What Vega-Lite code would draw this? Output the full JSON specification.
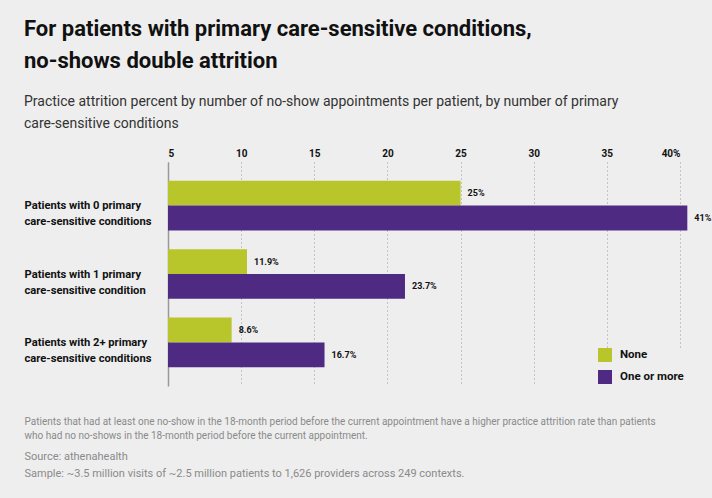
{
  "$schema": "https://vega.github.io/schema/vega-lite/v6.json",
  "width": 512,
  "height": 224,
  "autosize": {"type": "none"},
  "padding": {"left": 168, "top": 162, "right": 32, "bottom": 112},
  "background": "#eeeeee",
  "config": {"font": "Roboto", "view": {"stroke": null}},
  "title": {
    "text": ["For patients with primary care-sensitive conditions,", "no-shows double attrition"],
    "subtitle": ["Practice attrition percent by number of no-show appointments per patient, by number of primary", "care-sensitive conditions"],
    "anchor": "start",
    "frame": "bounds",
    "font": "Roboto",
    "fontSize": 22,
    "fontWeight": "bold",
    "lineHeight": 32,
    "color": "#111111",
    "subtitleFont": "Roboto",
    "subtitleFontSize": 14,
    "subtitleColor": "#333333",
    "subtitleLineHeight": 22,
    "subtitlePadding": 22,
    "offset": 16
  },
  "data": {
    "values": [
      {"group": "Patients with 0 primary|care-sensitive conditions", "series": "None", "value": 25, "label": "25%"},
      {"group": "Patients with 0 primary|care-sensitive conditions", "series": "One or more", "value": 40.5, "label": "41%"},
      {"group": "Patients with 1 primary|care-sensitive condition", "series": "None", "value": 10.4, "label": "11.9%"},
      {"group": "Patients with 1 primary|care-sensitive condition", "series": "One or more", "value": 21.2, "label": "23.7%"},
      {"group": "Patients with 2+ primary|care-sensitive conditions", "series": "None", "value": 9.35, "label": "8.6%"},
      {"group": "Patients with 2+ primary|care-sensitive conditions", "series": "One or more", "value": 15.7, "label": "16.7%"}
    ]
  },
  "encoding": {
    "y": {
      "field": "group",
      "type": "nominal",
      "sort": null,
      "scale": {"paddingInner": 0.275, "paddingOuter": 0.275},
      "axis": {
        "labelExpr": "split(datum.label, '|')",
        "labelAlign": "left",
        "labelBaseline": "middle",
        "labelPadding": 144,
        "labelOffset": 0.5,
        "labelFontSize": 11.2,
        "labelFontWeight": "bold",
        "labelColor": "#111111",
        "labelLineHeight": 16,
        "labelLimit": 300,
        "ticks": false,
        "domainColor": "#999999",
        "domainWidth": 1.5,
        "grid": false,
        "title": ["Patients that had at least one no-show in the 18-month period before the current appointment have a higher practice attrition rate than patients", "who had no no-shows in the 18-month period before the current appointment."],
        "titleAngle": 0,
        "titleX": -144,
        "titleY": 254,
        "titleAlign": "left",
        "titleBaseline": "top",
        "titleFontSize": 10,
        "titleFontWeight": "normal",
        "titleColor": "#8a8a8a",
        "titleLineHeight": 14,
        "titleLimit": 800
      }
    },
    "yOffset": {"field": "series", "sort": ["None", "One or more"], "scale": {"paddingInner": 0, "paddingOuter": 0}}
  },
  "layer": [
    {
      "mark": {"type": "bar"},
      "encoding": {
        "x": {
          "field": "value",
          "type": "quantitative",
          "scale": {"domain": [5, 40], "nice": false, "zero": false},
          "axis": {
            "orient": "top",
            "values": [5, 10, 15, 20, 25, 30, 35, 40],
            "labelExpr": "datum.value == 40 ? '40%' : datum.label",
            "labelFontSize": 10,
            "labelFontWeight": "bold",
            "labelColor": "#111111",
            "labelPadding": 4,
            "ticks": false,
            "domain": false,
            "grid": true,
            "gridDash": [1, 3],
            "gridColor": "#999999",
            "title": null
          }
        },
        "x2": {"datum": 5},
        "color": {
          "field": "series",
          "type": "nominal",
          "scale": {"domain": ["None", "One or more"], "range": ["#b8c62b", "#4f2a83"]},
          "legend": {
            "orient": "none",
            "legendX": 430,
            "legendY": 186,
            "title": null,
            "symbolType": "square",
            "symbolSize": 196,
            "symbolStrokeWidth": 0,
            "symbolOpacity": 1,
            "labelFontSize": 11.5,
            "labelFontWeight": "bold",
            "labelColor": "#111111",
            "labelOffset": 8,
            "rowPadding": 8,
            "fillColor": "#eeeeee",
            "padding": 0
          }
        }
      }
    },
    {
      "mark": {"type": "text", "align": "left", "baseline": "middle", "dx": 7, "fontSize": 9, "fontWeight": "bold", "color": "#111111"},
      "encoding": {
        "x": {
          "field": "value",
          "type": "quantitative",
          "axis": {
            "orient": "bottom",
            "labels": false,
            "ticks": false,
            "domain": false,
            "grid": false,
            "title": ["Source: athenahealth", "Sample: ~3.5 million visits of ~2.5 million patients to 1,626 providers across 249 contexts."],
            "titleX": -144,
            "titleY": 64,
            "titleAlign": "left",
            "titleBaseline": "top",
            "titleFontSize": 11,
            "titleFontWeight": "normal",
            "titleColor": "#8a8a8a",
            "titleLineHeight": 17,
            "titleLimit": 800
          }
        },
        "text": {"field": "label"}
      }
    }
  ],
  "resolve": {"axis": {"x": "independent"}}
}
